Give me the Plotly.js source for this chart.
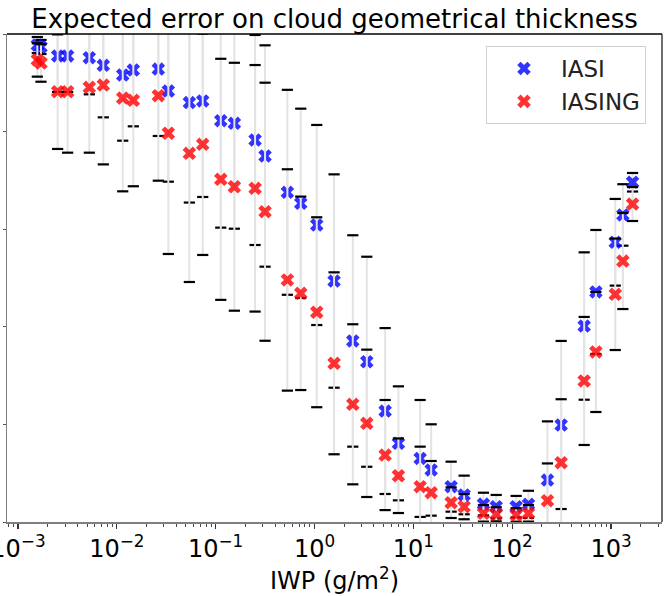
<!DOCTYPE html>
<html>
<head>
<meta charset="utf-8">
<script src="https://cdn.plot.ly/plotly-3.0.1.min.js"></script>
<style>html,body{margin:0;padding:0;background:#fff;}#chart{width:668px;height:596px;}</style>
</head>
<body>
<div id="chart"></div>
<script>
const iwp = [0.00157, 0.00171, 0.00252, 0.00318, 0.00527, 0.0073, 0.01148, 0.01469, 0.0263, 0.0332,
  0.0542, 0.074, 0.1127, 0.1546, 0.2506, 0.3162, 0.5317, 0.7261, 1.054, 1.578,
  2.441, 3.382, 5.186, 7.068, 11.72, 15.15, 24.13, 32.66, 51.24, 68.93,
  109.7, 146.2, 227.6, 313.1, 535.3, 703.3, 1104, 1319, 1652];
const iasi = [4.887, 4.867, 4.775, 4.775, 4.757, 4.679, 4.580, 4.631, 4.641, 4.416,
  4.298, 4.314, 4.112, 4.085, 3.914, 3.750, 3.378, 3.265, 3.043, 2.469,
  1.855, 1.642, 1.137, 0.806, 0.651, 0.533, 0.362, 0.277, 0.184, 0.157,
  0.157, 0.181, 0.430, 0.994, 2.008, 2.357, 2.866, 3.146, 3.481];
const iasiErr = [0.082, 0.072, 0.369, 0.369, 0.375, 0.533, 0.673, 0.577, 0.686, 0.929,
  1.025, 0.984, 1.096, 1.080, 1.076, 1.134, 1.050, 0.970, 1.025, 1.093,
  1.083, 1.076, 0.850, 0.584, 0.599, 0.468, 0.256, 0.198, 0.116, 0.120,
  0.110, 0.139, 0.601, 0.861, 0.755, 0.635, 0.444, 0.315, 0.095];
const iasing = [4.734, 4.703, 4.409, 4.409, 4.454, 4.477, 4.344, 4.321, 4.368, 3.983,
  3.778, 3.870, 3.511, 3.435, 3.419, 3.179, 2.480, 2.343, 2.149, 1.626,
  1.206, 1.011, 0.686, 0.474, 0.362, 0.300, 0.198, 0.157, 0.089, 0.079,
  0.072, 0.089, 0.218, 0.608, 1.445, 1.742, 2.333, 2.674, 3.258];
const iasingErr = [0.171, 0.192, 0.587, 0.625, 0.670, 0.813, 0.956, 0.881, 0.871, 1.237,
  1.319, 1.134, 1.235, 1.270, 1.263, 1.322, 1.134, 0.991, 0.973, 0.932,
  0.820, 0.755, 0.564, 0.382, 0.410, 0.325, 0.157, 0.129, 0.085, 0.072,
  0.069, 0.085, 0.382, 0.650, 0.656, 0.615, 0.571, 0.492, 0.174];
const seriesNames = ["IASI", "IASING"];
const xTickVals = [0.001, 0.01, 0.1, 1, 10, 100, 1000];
const xTickText = ["10<sup>\u22123</sup>", "10<sup>\u22122</sup>", "10<sup>\u22121</sup>", "10<sup>0</sup>",
  "10<sup>1</sup>", "10<sup>2</sup>", "10<sup>3</sup>"];
const titleText = "Expected error on cloud geometrical thickness";
const xTitle = "IWP (g/m<sup>2</sup>)";

const FONT = "DejaVu Sans, sans-serif";

function seriesTraces(name, y, err, color) {
  const capsX = iwp.concat(iwp);
  const capsY = y.map((v, i) => v + err[i]).concat(y.map((v, i) => v - err[i]));
  return [
    {
      type: "scatter", mode: "markers", x: iwp, y: y, showlegend: false, hoverinfo: "skip",
      marker: {size: 1, opacity: 0},
      error_y: {type: "data", array: err, visible: true, color: "#e3e3e3", thickness: 2, width: 0}
    },
    {
      type: "scatter", mode: "markers", x: capsX, y: capsY, showlegend: false, hoverinfo: "skip",
      marker: {symbol: "line-ew", size: 8, color: "black", line: {color: "black", width: 2.2}}
    },
    {
      type: "scatter", mode: "markers", x: iwp, y: y, name: name,
      marker: {symbol: "x", size: 12, color: color, line: {width: 0}}
    }
  ];
}

const data = [].concat(
  seriesTraces(seriesNames[0], iasi, iasiErr, "rgba(0,0,255,0.8)"),
  seriesTraces(seriesNames[1], iasing, iasingErr, "rgba(255,0,0,0.8)")
);

const L = 7, R = 662, T = 34, B = 522, W = 668, H = 596;

const layout = {
  width: W, height: H,
  margin: {l: L, r: W - R, t: T, b: H - B, pad: 0},
  paper_bgcolor: "white", plot_bgcolor: "white",
  font: {family: FONT, color: "black"},
  title: {text: titleText, font: {family: FONT, size: 26, color: "black"},
          x: 0.5, xanchor: "center", xref: "paper", yref: "container", y: 1 - 19 / H, yanchor: "middle"},
  xaxis: {
    type: "log", range: [-3.111, 3.516], showgrid: false, zeroline: false,
    showline: true, linecolor: "#7f7f7f", linewidth: 1.5, mirror: false,
    ticks: "outside", ticklen: 5, tickwidth: 1.2, tickcolor: "#333",
    tickmode: "array", tickvals: xTickVals, ticktext: xTickText,
    ticklabeloverflow: "allow",
    tickfont: {family: FONT, size: 24, color: "black"},
    minor: {ticks: "outside", ticklen: 3, tickwidth: 0.9, tickcolor: "#333", showgrid: false, dtick: "D1"},
    title: {text: xTitle, font: {family: FONT, size: 24, color: "black"}, standoff: 6}
  },
  yaxis: {
    range: [0, 5], showgrid: false, zeroline: false, showticklabels: false,
    showline: true, linecolor: "#7f7f7f", linewidth: 1.5,
    ticks: "outside", ticklen: 3, tickwidth: 1, tickcolor: "#555", dtick: 1
  },
  shapes: [
    {type: "line", xref: "paper", yref: "paper", x0: 0, x1: 1, y0: 1, y1: 1, line: {color: "black", width: 1.3}},
    {type: "line", xref: "paper", yref: "paper", x0: 1, x1: 1, y0: 0, y1: 1, line: {color: "#222", width: 1.3}}
  ],
  legend: {
    x: (486 - L) / (R - L), y: (B - 46) / (B - T), xanchor: "left", yanchor: "top",
    bgcolor: "rgba(255,255,255,0.8)", bordercolor: "#d0d0d0", borderwidth: 1,
    font: {family: FONT, size: 23, color: "#222"}, itemwidth: 64, tracegroupgap: 0
  },
  showlegend: true
};

Plotly.newPlot("chart", data, layout, {displayModeBar: false, staticPlot: true});
</script>
</body>
</html>
